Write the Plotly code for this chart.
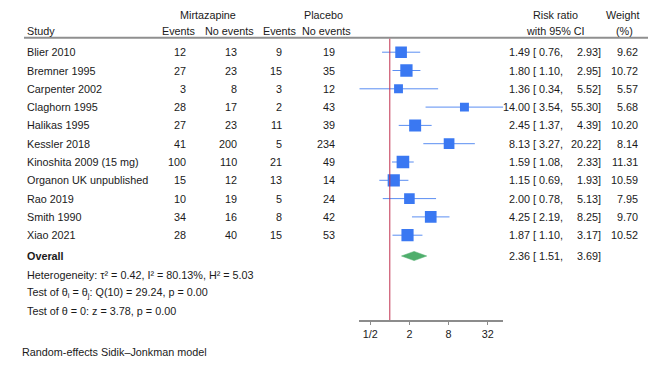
import math
import plotly.graph_objects as go

# ---------------- data ----------------
studies = ["Blier 2010", "Bremner 1995", "Carpenter 2002", "Claghorn 1995", "Halikas 1995",
           "Kessler 2018", "Kinoshita 2009 (15 mg)", "Organon UK unpublished", "Rao 2019",
           "Smith 1990", "Xiao 2021"]
mirt_events = [12, 27, 3, 28, 27, 41, 100, 15, 10, 34, 28]
mirt_noevents = [13, 23, 8, 17, 23, 200, 110, 12, 19, 16, 40]
plac_events = [9, 15, 3, 2, 11, 5, 21, 13, 5, 8, 15]
plac_noevents = [19, 35, 12, 43, 39, 234, 49, 14, 24, 42, 53]
rr = [1.49, 1.80, 1.36, 14.00, 2.45, 8.13, 1.59, 1.15, 2.00, 4.25, 1.87]
rr_lo = [0.76, 1.10, 0.34, 3.54, 1.37, 3.27, 1.08, 0.69, 0.78, 2.19, 1.10]
rr_hi = [2.93, 2.95, 5.52, 55.30, 4.39, 20.22, 2.33, 1.93, 5.13, 8.25, 3.17]
weights = [9.62, 10.72, 5.57, 5.68, 10.20, 8.14, 11.31, 10.59, 7.95, 9.70, 10.52]
overall_rr, overall_lo, overall_hi = 2.36, 1.51, 3.69
stats_lines = ["Heterogeneity: τ² = 0.42, I² = 80.13%, H² = 5.03",
               "Test of θ<sub>i</sub> = θ<sub>j</sub>: Q(10) = 29.24, p = 0.00",
               "Test of θ = 0: z = 3.78, p = 0.00"]
tick_vals = [0.5, 2, 8, 32]
tick_text = ["1/2", "2", "8", "32"]

# ---------------- layout helpers ----------------
PAGE_W, PAGE_H = 669, 374
OFF = 8  # default page body margin
W, H = PAGE_W - OFF, PAGE_H - OFF
FONT = "Liberation Sans, Arial, Helvetica, sans-serif"
FS = 10.8
TXT = "#1a1a1a"
AXIS_BOTTOM = 320


def px(x):
    return (x - OFF) / W


def py(y):
    return 1 - (y - OFF) / H


def row_y(i):
    return 52.2 + 18.3 * i


OVERALL_Y = 256
STAT_Y = [274.7, 293.0, 311.0]

fig = go.Figure()
annotations = []


def text(x, y, s, anchor="left", bold=False):
    annotations.append(dict(
        x=px(x), y=py(y), xref="paper", yref="paper", text=("<b>%s</b>" % s) if bold else s,
        showarrow=False, xanchor=anchor, yanchor="middle",
        font=dict(family=FONT, size=FS, color=TXT), borderpad=0))


# headers
text(208, 15, "Mirtazapine", "center")
text(323, 15, "Placebo", "center")
text(25.5, 31, "Study")
text(179, 31, "Events", "center")
text(229, 31, "No events", "center")
text(279.5, 31, "Events", "center")
text(326.5, 31, "No events", "center")
text(555.5, 15, "Risk ratio", "center")
text(555, 31, "with 95% CI", "center")
text(622.5, 15, "Weight", "center")
text(624, 31, "(%)", "center")

# study rows
for i, s in enumerate(studies):
    y = row_y(i)
    text(26, y, s)
    text(187, y, str(mirt_events[i]), "right")
    text(237.5, y, str(mirt_noevents[i]), "right")
    text(283, y, str(plac_events[i]), "right")
    text(335.5, y, str(plac_noevents[i]), "right")
    text(530.5, y, "%.2f" % rr[i], "right")
    text(532, y, "[ %.2f," % rr_lo[i])
    text(602, y, "%.2f]" % rr_hi[i], "right")
    text(638.5, y, "%.2f" % weights[i], "right")

# overall
text(26, OVERALL_Y, "Overall", bold=True)
text(530.5, OVERALL_Y, "%.2f" % overall_rr, "right")
text(532, OVERALL_Y, "[ %.2f," % overall_lo)
text(602, OVERALL_Y, "%.2f]" % overall_hi, "right")
for y, s in zip(STAT_Y, stats_lines):
    text(26, y, s)
text(21, 351.7, "Random-effects Sidik–Jonkman model")

# CI lines
for i in range(len(studies)):
    fig.add_trace(go.Scatter(x=[rr_lo[i], rr_hi[i]], y=[row_y(i)] * 2, mode="lines",
                             line=dict(color="#5b8ef2", width=1), hoverinfo="skip",
                             showlegend=False))
# squares
fig.add_trace(go.Scatter(x=rr, y=[row_y(i) for i in range(len(studies))], mode="markers",
                         marker=dict(symbol="square", color="#3a78f2", opacity=1,
                                     size=[3.75 * math.sqrt(w) for w in weights],
                                     line=dict(width=0)),
                         showlegend=False))
# diamond
dh = 4.6
fig.add_trace(go.Scatter(x=[overall_lo, overall_rr, overall_hi, overall_rr, overall_lo],
                         y=[OVERALL_Y, OVERALL_Y - dh, OVERALL_Y, OVERALL_Y + dh, OVERALL_Y],
                         mode="lines", fill="toself", fillcolor="#4fae6c",
                         line=dict(color="#4fae6c", width=0.5), showlegend=False))

shapes = [
    dict(type="line", xref="paper", yref="paper", x0=px(24), x1=px(648), y0=py(37.7), y1=py(37.7),
         line=dict(color="#8f8f8f", width=2)),
    dict(type="line", xref="x", yref="y", x0=1, x1=1, y0=38.7, y1=AXIS_BOTTOM,
         line=dict(color="#c0304e", width=1)),
]

lo_all, hi_all = min(rr_lo), max(rr_hi)
fig.update_layout(
    width=W, height=H, margin=dict(l=0, r=0, t=0, b=0),
    paper_bgcolor="white", plot_bgcolor="rgba(0,0,0,0)",
    annotations=annotations, shapes=shapes, showlegend=False,
    xaxis=dict(type="log", domain=[px(359.3), px(503.3)],
               range=[math.log10(lo_all), math.log10(hi_all)],
               tickvals=tick_vals, ticktext=tick_text, ticks="outside", ticklen=3,
               tickcolor="#8c8c8c", tickwidth=1, showline=True, linecolor="#8c8c8c",
               linewidth=1.5, showgrid=False, zeroline=False,
               tickfont=dict(family=FONT, size=FS, color=TXT), fixedrange=True),
    yaxis=dict(domain=[py(AXIS_BOTTOM), 1], range=[AXIS_BOTTOM, OFF], visible=False,
               showgrid=False, zeroline=False, fixedrange=True),
)

fig.write_html("out.html")
